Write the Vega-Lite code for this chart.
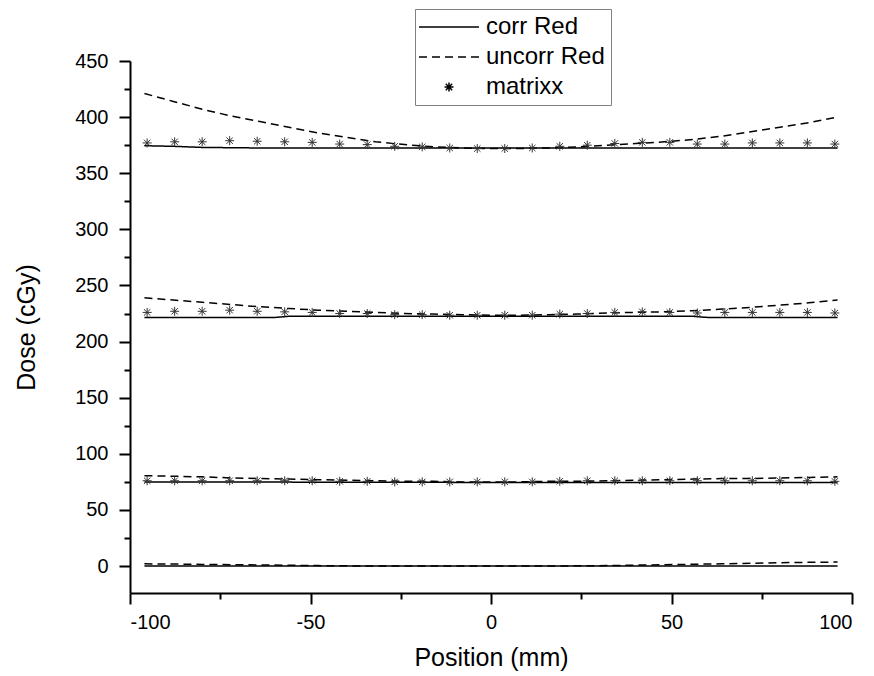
{
  "$schema": "https://vega.github.io/schema/vega-lite/v6.json",
  "width": 722,
  "height": 532,
  "autosize": {"type": "none"},
  "padding": {"left": 130, "top": 61, "right": 22, "bottom": 83},
  "background": "white",
  "datasets": {
    "lines": [
      {"x": -96, "y": 374.5, "series": "corr Red", "level": "L4"},
      {"x": -88, "y": 374, "series": "corr Red", "level": "L4"},
      {"x": -80, "y": 373, "series": "corr Red", "level": "L4"},
      {"x": -64, "y": 372.5, "series": "corr Red", "level": "L4"},
      {"x": 0, "y": 372.5, "series": "corr Red", "level": "L4"},
      {"x": 64, "y": 372.5, "series": "corr Red", "level": "L4"},
      {"x": 96, "y": 372.5, "series": "corr Red", "level": "L4"},
      {"x": -96, "y": 221.5, "series": "corr Red", "level": "L3"},
      {"x": -60, "y": 221.5, "series": "corr Red", "level": "L3"},
      {"x": -56, "y": 222.5, "series": "corr Red", "level": "L3"},
      {"x": 56, "y": 222.5, "series": "corr Red", "level": "L3"},
      {"x": 60, "y": 221.5, "series": "corr Red", "level": "L3"},
      {"x": 96, "y": 221.5, "series": "corr Red", "level": "L3"},
      {"x": -96, "y": 75, "series": "corr Red", "level": "L2"},
      {"x": 0, "y": 74.5, "series": "corr Red", "level": "L2"},
      {"x": 96, "y": 74.5, "series": "corr Red", "level": "L2"},
      {"x": -96, "y": 0, "series": "corr Red", "level": "L1"},
      {"x": 96, "y": 0, "series": "corr Red", "level": "L1"},

      {"x": -96, "y": 421, "series": "uncorr Red", "level": "L4"},
      {"x": -88, "y": 414, "series": "uncorr Red", "level": "L4"},
      {"x": -80, "y": 407, "series": "uncorr Red", "level": "L4"},
      {"x": -72, "y": 401, "series": "uncorr Red", "level": "L4"},
      {"x": -64, "y": 396, "series": "uncorr Red", "level": "L4"},
      {"x": -56, "y": 391, "series": "uncorr Red", "level": "L4"},
      {"x": -48, "y": 386, "series": "uncorr Red", "level": "L4"},
      {"x": -40, "y": 382, "series": "uncorr Red", "level": "L4"},
      {"x": -32, "y": 378, "series": "uncorr Red", "level": "L4"},
      {"x": -24, "y": 375.5, "series": "uncorr Red", "level": "L4"},
      {"x": -16, "y": 373.5, "series": "uncorr Red", "level": "L4"},
      {"x": -8, "y": 372.5, "series": "uncorr Red", "level": "L4"},
      {"x": 0, "y": 372, "series": "uncorr Red", "level": "L4"},
      {"x": 8, "y": 372, "series": "uncorr Red", "level": "L4"},
      {"x": 16, "y": 372.5, "series": "uncorr Red", "level": "L4"},
      {"x": 24, "y": 373.5, "series": "uncorr Red", "level": "L4"},
      {"x": 32, "y": 375, "series": "uncorr Red", "level": "L4"},
      {"x": 40, "y": 376.5, "series": "uncorr Red", "level": "L4"},
      {"x": 48, "y": 378, "series": "uncorr Red", "level": "L4"},
      {"x": 56, "y": 380, "series": "uncorr Red", "level": "L4"},
      {"x": 64, "y": 383, "series": "uncorr Red", "level": "L4"},
      {"x": 72, "y": 387, "series": "uncorr Red", "level": "L4"},
      {"x": 80, "y": 391, "series": "uncorr Red", "level": "L4"},
      {"x": 88, "y": 395, "series": "uncorr Red", "level": "L4"},
      {"x": 96, "y": 400, "series": "uncorr Red", "level": "L4"},

      {"x": -96, "y": 239, "series": "uncorr Red", "level": "L3"},
      {"x": -88, "y": 237, "series": "uncorr Red", "level": "L3"},
      {"x": -80, "y": 235, "series": "uncorr Red", "level": "L3"},
      {"x": -72, "y": 233, "series": "uncorr Red", "level": "L3"},
      {"x": -64, "y": 231, "series": "uncorr Red", "level": "L3"},
      {"x": -56, "y": 229.5, "series": "uncorr Red", "level": "L3"},
      {"x": -48, "y": 228, "series": "uncorr Red", "level": "L3"},
      {"x": -40, "y": 227, "series": "uncorr Red", "level": "L3"},
      {"x": -32, "y": 226, "series": "uncorr Red", "level": "L3"},
      {"x": -24, "y": 225, "series": "uncorr Red", "level": "L3"},
      {"x": -16, "y": 224.5, "series": "uncorr Red", "level": "L3"},
      {"x": -8, "y": 224, "series": "uncorr Red", "level": "L3"},
      {"x": 0, "y": 223.5, "series": "uncorr Red", "level": "L3"},
      {"x": 8, "y": 223.5, "series": "uncorr Red", "level": "L3"},
      {"x": 16, "y": 224, "series": "uncorr Red", "level": "L3"},
      {"x": 24, "y": 224.5, "series": "uncorr Red", "level": "L3"},
      {"x": 32, "y": 225.5, "series": "uncorr Red", "level": "L3"},
      {"x": 40, "y": 226, "series": "uncorr Red", "level": "L3"},
      {"x": 48, "y": 226.5, "series": "uncorr Red", "level": "L3"},
      {"x": 56, "y": 227.5, "series": "uncorr Red", "level": "L3"},
      {"x": 64, "y": 229, "series": "uncorr Red", "level": "L3"},
      {"x": 72, "y": 230.5, "series": "uncorr Red", "level": "L3"},
      {"x": 80, "y": 232.5, "series": "uncorr Red", "level": "L3"},
      {"x": 88, "y": 234.5, "series": "uncorr Red", "level": "L3"},
      {"x": 96, "y": 237, "series": "uncorr Red", "level": "L3"},

      {"x": -96, "y": 80.5, "series": "uncorr Red", "level": "L2"},
      {"x": -88, "y": 80, "series": "uncorr Red", "level": "L2"},
      {"x": -80, "y": 79.5, "series": "uncorr Red", "level": "L2"},
      {"x": -72, "y": 78.5, "series": "uncorr Red", "level": "L2"},
      {"x": -64, "y": 78, "series": "uncorr Red", "level": "L2"},
      {"x": -56, "y": 77.5, "series": "uncorr Red", "level": "L2"},
      {"x": -48, "y": 77, "series": "uncorr Red", "level": "L2"},
      {"x": -40, "y": 76.5, "series": "uncorr Red", "level": "L2"},
      {"x": -32, "y": 76, "series": "uncorr Red", "level": "L2"},
      {"x": -24, "y": 75.5, "series": "uncorr Red", "level": "L2"},
      {"x": -16, "y": 75.5, "series": "uncorr Red", "level": "L2"},
      {"x": -8, "y": 75, "series": "uncorr Red", "level": "L2"},
      {"x": 0, "y": 75, "series": "uncorr Red", "level": "L2"},
      {"x": 8, "y": 75, "series": "uncorr Red", "level": "L2"},
      {"x": 16, "y": 75.5, "series": "uncorr Red", "level": "L2"},
      {"x": 24, "y": 75.5, "series": "uncorr Red", "level": "L2"},
      {"x": 32, "y": 76, "series": "uncorr Red", "level": "L2"},
      {"x": 40, "y": 76.5, "series": "uncorr Red", "level": "L2"},
      {"x": 48, "y": 77, "series": "uncorr Red", "level": "L2"},
      {"x": 56, "y": 77.5, "series": "uncorr Red", "level": "L2"},
      {"x": 64, "y": 78, "series": "uncorr Red", "level": "L2"},
      {"x": 72, "y": 78, "series": "uncorr Red", "level": "L2"},
      {"x": 80, "y": 78.5, "series": "uncorr Red", "level": "L2"},
      {"x": 88, "y": 79, "series": "uncorr Red", "level": "L2"},
      {"x": 96, "y": 79.5, "series": "uncorr Red", "level": "L2"},

      {"x": -96, "y": 2, "series": "uncorr Red", "level": "L1"},
      {"x": -88, "y": 1.8, "series": "uncorr Red", "level": "L1"},
      {"x": -80, "y": 1.5, "series": "uncorr Red", "level": "L1"},
      {"x": -72, "y": 1.2, "series": "uncorr Red", "level": "L1"},
      {"x": -64, "y": 1, "series": "uncorr Red", "level": "L1"},
      {"x": -56, "y": 0.7, "series": "uncorr Red", "level": "L1"},
      {"x": -48, "y": 0.4, "series": "uncorr Red", "level": "L1"},
      {"x": -40, "y": 0.2, "series": "uncorr Red", "level": "L1"},
      {"x": -32, "y": 0, "series": "uncorr Red", "level": "L1"},
      {"x": 16, "y": 0, "series": "uncorr Red", "level": "L1"},
      {"x": 24, "y": 0.2, "series": "uncorr Red", "level": "L1"},
      {"x": 32, "y": 0.4, "series": "uncorr Red", "level": "L1"},
      {"x": 40, "y": 0.8, "series": "uncorr Red", "level": "L1"},
      {"x": 48, "y": 1.2, "series": "uncorr Red", "level": "L1"},
      {"x": 56, "y": 1.6, "series": "uncorr Red", "level": "L1"},
      {"x": 64, "y": 2, "series": "uncorr Red", "level": "L1"},
      {"x": 72, "y": 2.5, "series": "uncorr Red", "level": "L1"},
      {"x": 80, "y": 3, "series": "uncorr Red", "level": "L1"},
      {"x": 88, "y": 3.3, "series": "uncorr Red", "level": "L1"},
      {"x": 96, "y": 3.6, "series": "uncorr Red", "level": "L1"}
    ],
    "points": [
      {"x": -95.25, "y": 377, "series": "matrixx"},
      {"x": -87.63, "y": 378, "series": "matrixx"},
      {"x": -80.01, "y": 378, "series": "matrixx"},
      {"x": -72.39, "y": 379, "series": "matrixx"},
      {"x": -64.77, "y": 378.5, "series": "matrixx"},
      {"x": -57.15, "y": 378, "series": "matrixx"},
      {"x": -49.53, "y": 377.5, "series": "matrixx"},
      {"x": -41.91, "y": 376, "series": "matrixx"},
      {"x": -34.29, "y": 375.5, "series": "matrixx"},
      {"x": -26.67, "y": 374, "series": "matrixx"},
      {"x": -19.05, "y": 373.5, "series": "matrixx"},
      {"x": -11.43, "y": 372.5, "series": "matrixx"},
      {"x": -3.81, "y": 372, "series": "matrixx"},
      {"x": 3.81, "y": 372, "series": "matrixx"},
      {"x": 11.43, "y": 372.5, "series": "matrixx"},
      {"x": 19.05, "y": 374, "series": "matrixx"},
      {"x": 26.67, "y": 375, "series": "matrixx"},
      {"x": 34.29, "y": 376.5, "series": "matrixx"},
      {"x": 41.91, "y": 377.5, "series": "matrixx"},
      {"x": 49.53, "y": 377.5, "series": "matrixx"},
      {"x": 57.15, "y": 376, "series": "matrixx"},
      {"x": 64.77, "y": 376, "series": "matrixx"},
      {"x": 72.39, "y": 377, "series": "matrixx"},
      {"x": 80.01, "y": 377, "series": "matrixx"},
      {"x": 87.63, "y": 377, "series": "matrixx"},
      {"x": 95.25, "y": 376, "series": "matrixx"},

      {"x": -95.25, "y": 226, "series": "matrixx"},
      {"x": -87.63, "y": 227, "series": "matrixx"},
      {"x": -80.01, "y": 227, "series": "matrixx"},
      {"x": -72.39, "y": 228, "series": "matrixx"},
      {"x": -64.77, "y": 227, "series": "matrixx"},
      {"x": -57.15, "y": 226.5, "series": "matrixx"},
      {"x": -49.53, "y": 226, "series": "matrixx"},
      {"x": -41.91, "y": 225, "series": "matrixx"},
      {"x": -34.29, "y": 225, "series": "matrixx"},
      {"x": -26.67, "y": 224, "series": "matrixx"},
      {"x": -19.05, "y": 224, "series": "matrixx"},
      {"x": -11.43, "y": 223.5, "series": "matrixx"},
      {"x": -3.81, "y": 223.5, "series": "matrixx"},
      {"x": 3.81, "y": 223.5, "series": "matrixx"},
      {"x": 11.43, "y": 223.5, "series": "matrixx"},
      {"x": 19.05, "y": 224.5, "series": "matrixx"},
      {"x": 26.67, "y": 225, "series": "matrixx"},
      {"x": 34.29, "y": 226, "series": "matrixx"},
      {"x": 41.91, "y": 226.5, "series": "matrixx"},
      {"x": 49.53, "y": 226, "series": "matrixx"},
      {"x": 57.15, "y": 225.5, "series": "matrixx"},
      {"x": 64.77, "y": 226, "series": "matrixx"},
      {"x": 72.39, "y": 226, "series": "matrixx"},
      {"x": 80.01, "y": 226, "series": "matrixx"},
      {"x": 87.63, "y": 226, "series": "matrixx"},
      {"x": 95.25, "y": 225.5, "series": "matrixx"},

      {"x": -95.25, "y": 76, "series": "matrixx"},
      {"x": -87.63, "y": 76, "series": "matrixx"},
      {"x": -80.01, "y": 76, "series": "matrixx"},
      {"x": -72.39, "y": 76, "series": "matrixx"},
      {"x": -64.77, "y": 76, "series": "matrixx"},
      {"x": -57.15, "y": 76, "series": "matrixx"},
      {"x": -49.53, "y": 76, "series": "matrixx"},
      {"x": -41.91, "y": 75.5, "series": "matrixx"},
      {"x": -34.29, "y": 75.5, "series": "matrixx"},
      {"x": -26.67, "y": 75, "series": "matrixx"},
      {"x": -19.05, "y": 75, "series": "matrixx"},
      {"x": -11.43, "y": 75, "series": "matrixx"},
      {"x": -3.81, "y": 75, "series": "matrixx"},
      {"x": 3.81, "y": 75, "series": "matrixx"},
      {"x": 11.43, "y": 75, "series": "matrixx"},
      {"x": 19.05, "y": 75.5, "series": "matrixx"},
      {"x": 26.67, "y": 76, "series": "matrixx"},
      {"x": 34.29, "y": 76, "series": "matrixx"},
      {"x": 41.91, "y": 76, "series": "matrixx"},
      {"x": 49.53, "y": 76, "series": "matrixx"},
      {"x": 57.15, "y": 76, "series": "matrixx"},
      {"x": 64.77, "y": 76, "series": "matrixx"},
      {"x": 72.39, "y": 76, "series": "matrixx"},
      {"x": 80.01, "y": 76, "series": "matrixx"},
      {"x": 87.63, "y": 76, "series": "matrixx"},
      {"x": 95.25, "y": 75.5, "series": "matrixx"}
    ]
  },
  "layer": [
    {
      "data": {"name": "lines"},
      "mark": {"type": "line", "strokeWidth": 1.5, "color": "black", "clip": true},
      "encoding": {
        "x": {
          "field": "x", "type": "quantitative",
          "scale": {"domain": [-100, 100], "nice": false, "zero": false},
          "axis": {
            "orient": "bottom", "values": [-100, -50, 0, 50, 100],
            "labelExpr": "datum.value < 0 ? '-' + abs(datum.value) : datum.label",
            "tickSize": 11, "tickWidth": 2, "domainWidth": 2,
            "labelFontSize": 20, "labelPadding": 8,
            "title": "Position (mm)", "titleFontSize": 25, "titlePadding": 13
          }
        },
        "y": {
          "field": "y", "type": "quantitative",
          "scale": {"domain": [-24, 450], "nice": false, "zero": false},
          "axis": {
            "orient": "left", "values": [0, 50, 100, 150, 200, 250, 300, 350, 400, 450],
            "tickSize": 11, "tickWidth": 2, "domainWidth": 2,
            "labelFontSize": 20, "labelPadding": 11,
            "title": "Dose (cGy)", "titleFontSize": 25, "titlePadding": 35
          }
        },
        "strokeDash": {
          "field": "series", "type": "nominal",
          "scale": {"domain": ["corr Red", "uncorr Red", "matrixx"], "range": [[1, 0], [8, 5], [1, 0]]},
          "legend": {"title": null}
        },
        "detail": {"field": "level"},
        "order": {"field": "x", "type": "quantitative"}
      }
    },
    {
      "data": {"name": "points"},
      "mark": {"type": "point", "filled": false, "size": 400, "strokeWidth": 1, "color": "#333333", "opacity": 1},
      "encoding": {
        "x": {
          "field": "x", "type": "quantitative",
          "axis": {
            "orient": "bottom", "values": [-75, -25, 25, 75],
            "tickSize": 6, "tickWidth": 2, "domain": false, "labels": false, "title": null
          }
        },
        "y": {
          "field": "y", "type": "quantitative",
          "axis": {
            "orient": "left", "values": [25, 75, 125, 175, 225, 275, 325, 375, 425],
            "tickSize": 6, "tickWidth": 2, "domain": false, "labels": false, "title": null
          }
        },
        "shape": {
          "field": "series", "type": "nominal",
          "scale": {
            "domain": ["corr Red", "uncorr Red", "matrixx"],
            "range": ["M-3,0L3,0", "M-3,0L3,0", "M-0.45,0L0.45,0M0,-0.45L0,0.45M-0.32,-0.32L0.32,0.32M-0.32,0.32L0.32,-0.32"]
          },
          "legend": {"title": null}
        }
      }
    }
  ],
  "resolve": {"axis": {"x": "independent", "y": "independent"}},
  "config": {
    "view": {"stroke": null},
    "axis": {
      "grid": false,
      "domainColor": "black", "tickColor": "black",
      "labelColor": "black", "titleColor": "black",
      "labelFont": "Liberation Sans", "titleFont": "Liberation Sans",
      "titleFontWeight": "normal"
    },
    "legend": {
      "orient": "none", "legendX": 285, "legendY": -52,
      "padding": 6, "rowPadding": 6,
      "labelFont": "Liberation Sans", "labelFontSize": 24, "labelColor": "black",
      "labelOffset": 25,
      "symbolSize": 400, "symbolOffset": 16, "symbolStrokeWidth": 1.5, "symbolStrokeColor": "black",
      "strokeColor": "#808080", "fillColor": "white"
    }
  }
}
